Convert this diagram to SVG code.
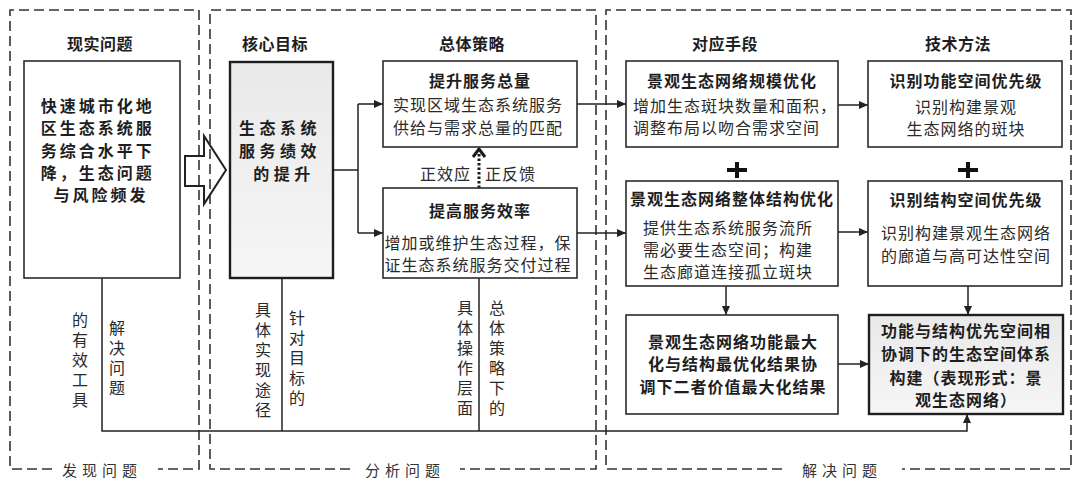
<svg xmlns="http://www.w3.org/2000/svg" width="1080" height="484" viewBox="0 0 1080 484">
<defs>
<style>
text{font-family:"Noto Sans CJK SC","Noto Sans",sans-serif;fill:#1e1e1e;dominant-baseline:central}
.h{font-size:16px;font-weight:bold;letter-spacing:0.5px;text-anchor:middle}
.t{font-size:16px;font-weight:bold;letter-spacing:1px;text-anchor:middle}
.b{font-size:16px;letter-spacing:1px;fill:#2a2a2a}
.c{text-anchor:middle}
.v{font-size:16px;letter-spacing:4px;fill:#2a2a2a;writing-mode:vertical-rl;text-orientation:upright}
.lab{font-size:15px;letter-spacing:5px;text-anchor:middle;fill:#333}
.box{fill:#fff;stroke:#2b2b2b;stroke-width:1.6}
.key{stroke:#1e1e1e;stroke-width:2.4}
.frame{fill:none;stroke:#333;stroke-width:1.6;stroke-dasharray:10 5}
.ln{fill:none;stroke:#222;stroke-width:1.5}
.arr{marker-end:url(#ah)}
</style>
<linearGradient id="g" x1="0" y1="0" x2="0" y2="1">
<stop offset="0" stop-color="#e9e9e9"/>
<stop offset="1" stop-color="#f6f6f6"/>
</linearGradient>
<marker id="ah" markerUnits="userSpaceOnUse" markerWidth="10" markerHeight="8" refX="9" refY="4" orient="auto">
<path d="M0,0 L9,4 L0,8 z" fill="#222"/>
</marker>
</defs>

<g id="frames">
<path class="frame" d="M52,469 H10 V10 H199 V469 H158"/>
<text class="lab" x="102" y="469">发现问题</text>
<path class="frame" d="M350,469 H210 V10 H596 V469 H460"/>
<text class="lab" x="405" y="469">分析问题</text>
<path class="frame" d="M782,469 H606 V10 H1071 V469 H902"/>
<text class="lab" x="842" y="469">解决问题</text>
</g>

<g id="headers">
<text class="h" x="100" y="43">现实问题</text>
<text class="h" x="275" y="43">核心目标</text>
<text class="h" x="472" y="43">总体策略</text>
<text class="h" x="725" y="43">对应手段</text>
<text class="h" x="958" y="43">技术方法</text>
</g>

<g id="bigArrow">
<polygon points="185,156 204,156 204,136 226,170 204,204 204,186 185,186" fill="none" stroke="#222" stroke-width="2"/>
</g>

<g id="connectors">
<path class="ln" d="M333,170 H358 M358,104 V233"/>
<path class="ln arr" d="M358,104 H383"/>
<path class="ln arr" d="M358,233 H383"/>
<path class="ln arr" d="M577,104 H626"/>
<path class="ln arr" d="M577,233 H626"/>
<path class="ln arr" d="M838,105 H868"/>
<path class="ln arr" d="M838,232 H868"/>
<path class="ln arr" d="M726,286 V315"/>
<path class="ln arr" d="M968,286 V315"/>
<path class="ln arr" d="M838,364 H869"/>
<path class="ln arr" d="M102,278 V431 H967 V414"/>
<path class="ln" d="M282,278 V431"/>
<path class="ln" d="M479,278 V431"/>
<path d="M479,188 V152" fill="none" stroke="#1a1a1a" stroke-width="3" stroke-dasharray="2.5 2"/>
<path d="M473,157 L479,149 L485,157" fill="none" stroke="#1a1a1a" stroke-width="3"/>
<text class="b" x="471" y="173" style="text-anchor:end">正效应</text>
<text class="b" x="485" y="173">正反馈</text>
<path d="M727,170 H747 M737,162 V178" stroke="#111" stroke-width="4"/>
<path d="M958,170 H978 M968,162 V178" stroke="#111" stroke-width="4"/>
</g>

<g id="problem">
<rect class="box" x="24" y="61" width="156" height="217"/>
<text style="font-size:16px;font-weight:bold;letter-spacing:3px;text-anchor:middle">
<tspan x="101" y="105">快速城市化地</tspan>
<tspan x="101" y="127">区生态系统服</tspan>
<tspan x="101" y="150">务综合水平下</tspan>
<tspan x="101" y="172">降，生态问题</tspan>
<tspan x="101" y="194">与风险频发</tspan>
</text>
</g>

<g id="goal">
<rect class="box key" x="230" y="62" width="103" height="216" style="fill:url(#g)"/>
<text style="font-size:16px;font-weight:bold;letter-spacing:4.5px;text-anchor:middle">
<tspan x="284" y="127">生态系统</tspan>
<tspan x="284" y="150">服务绩效</tspan>
<tspan x="284" y="173">的提升</tspan>
</text>
</g>

<g id="strategyA">
<rect class="box" x="383" y="61" width="194" height="86"/>
<text class="t" x="480" y="80">提升服务总量</text>
<text class="b c" x="478" y="104">实现区域生态系统服务</text>
<text class="b c" x="478" y="127">供给与需求总量的匹配</text>
</g>

<g id="strategyB">
<rect class="box" x="383" y="188" width="194" height="90"/>
<text class="t" x="480" y="210">提高服务效率</text>
<text class="b c" x="478" y="242">增加或维护生态过程，保</text>
<text class="b c" x="478" y="264">证生态系统服务交付过程</text>
</g>

<g id="meansC">
<rect class="box" x="626" y="61" width="212" height="86"/>
<text class="t" x="732" y="80">景观生态网络规模优化</text>
<text class="b" x="633" y="105">增加生态斑块数量和面积，</text>
<text class="b" x="633" y="127">调整布局以吻合需求空间</text>
</g>

<g id="methodD">
<rect class="box" x="868" y="61" width="194" height="86"/>
<text class="t" x="966" y="80">识别功能空间优先级</text>
<text class="b c" x="966" y="106">识别构建景观</text>
<text class="b c" x="966" y="128">生态网络的斑块</text>
</g>

<g id="meansE">
<rect class="box" x="626" y="181" width="212" height="105"/>
<text class="t" x="732" y="198">景观生态网络整体结构优化</text>
<text class="b" x="643" y="227">提供生态系统服务流所</text>
<text class="b" x="643" y="249">需必要生态空间；构建</text>
<text class="b" x="643" y="271">生态廊道连接孤立斑块</text>
</g>

<g id="methodF">
<rect class="box" x="868" y="181" width="194" height="105"/>
<text class="t" x="966" y="199">识别结构空间优先级</text>
<text class="b c" x="966" y="232">识别构建景观生态网络</text>
<text class="b c" x="966" y="255">的廊道与高可达性空间</text>
</g>

<g id="resultG">
<rect class="box" x="626" y="315" width="212" height="99"/>
<text class="t" x="733" y="341">景观生态网络功能最大</text>
<text class="t" x="733" y="363">化与结构最优化结果协</text>
<text class="t" x="733" y="386">调下二者价值最大化结果</text>
</g>

<g id="resultH">
<rect class="box key" x="869" y="315" width="194" height="99" style="fill:url(#g)"/>
<text class="t" x="966" y="330">功能与结构优先空间相</text>
<text class="t" x="966" y="353">协调下的生态空间体系</text>
<text class="t" x="966" y="377">构建（表现形式：景</text>
<text class="t" x="966" y="399">观生态网络）</text>
</g>

<g id="verticalLabels">
<text class="v" x="80" y="312">的有效工具</text>
<text class="v" x="117" y="320">解决问题</text>
<text class="v" x="263" y="302">具体实现途径</text>
<text class="v" x="297" y="310">针对目标的</text>
<text class="v" x="465" y="300">具体操作层面</text>
<text class="v" x="497" y="300">总体策略下的</text>
</g>
</svg>
